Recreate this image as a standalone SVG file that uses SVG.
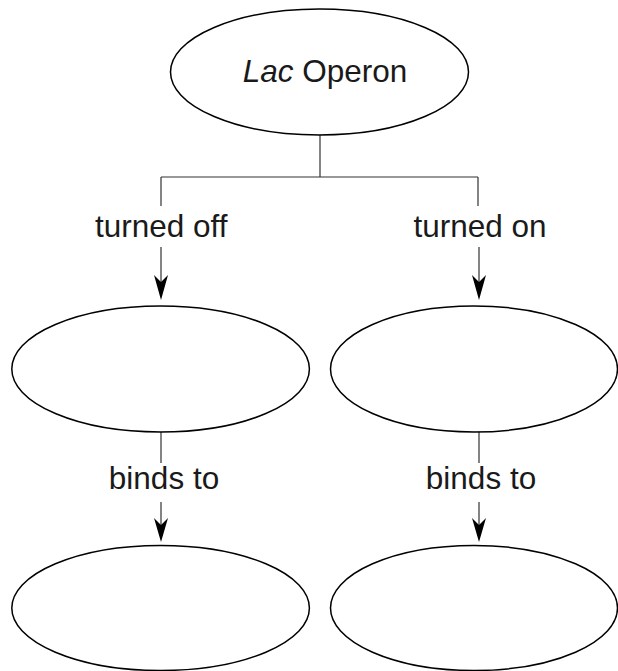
<svg xmlns="http://www.w3.org/2000/svg" width="618" height="671" viewBox="0 0 618 671">
<style>
.node{fill:#fff;stroke:#000;stroke-width:1.5}
.ln{fill:none;stroke:#333;stroke-width:1.2}
.ah{fill:#000;stroke:none}
text{font-family:"Liberation Sans",Arial,sans-serif;font-size:31.5px;fill:#1a1a1a;text-anchor:middle}
</style>
<rect width="618" height="671" fill="#fff"/>
<g id="connectors">
<path class="ln" d="M320,135 V177 M161,177 H478 M161,177 V206 M478,177 V206"/>
<text x="161.3" y="237">turned off</text>
<text x="480" y="237">turned on</text>
<path class="ln" d="M161,247 V282 M479,247 V282"/>
<path class="ah" d="M161,300 L154,275 L161,282 L168,275 Z"/>
<path class="ah" d="M479,300 L472,275 L479,282 L486,275 Z"/>
<path class="ln" d="M161,432 V463 M479,432 V463"/>
<text x="164" y="489">binds to</text>
<text x="481" y="489">binds to</text>
<path class="ln" d="M161,502 V525 M479,502 V525"/>
<path class="ah" d="M161,542 L154,518 L161,525 L168,518 Z"/>
<path class="ah" d="M479,542 L472,518 L479,525 L486,518 Z"/>
</g>
<g id="lac-operon">
<ellipse class="node" cx="319.5" cy="72" rx="149" ry="63"/>
<text x="325" y="82"><tspan font-style="italic">Lac</tspan> Operon</text>
</g>
<g id="off-node">
<ellipse class="node" cx="160.6" cy="369" rx="148.8" ry="63"/>
</g>
<g id="on-node">
<ellipse class="node" cx="474" cy="369" rx="143.5" ry="63"/>
</g>
<g id="off-target">
<ellipse class="node" cx="160.6" cy="608" rx="148.8" ry="62.5"/>
</g>
<g id="on-target">
<ellipse class="node" cx="474" cy="608" rx="143.5" ry="62.5"/>
</g>
</svg>
